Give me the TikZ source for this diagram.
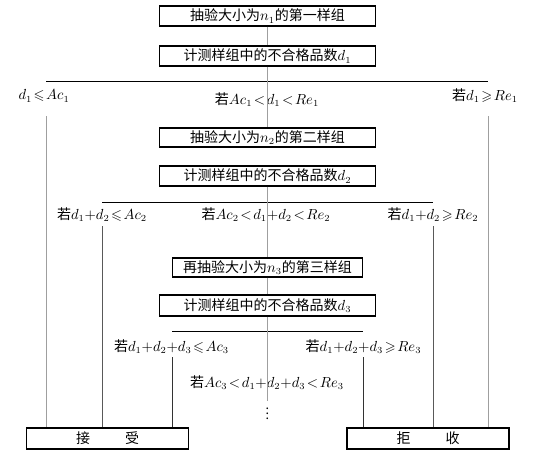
\documentclass[tikz,border=0pt]{standalone}
\usepackage{amssymb}
\usepackage{fontspec}
\newfontfamily\cjk{Noto Sans CJK SC}
\usetikzlibrary{positioning}

\thickmuskip=2mu plus 1mu
\medmuskip=1mu

\tikzset{
  box/.style={draw,line width=0.9pt,minimum width=162pt,minimum height=15pt,inner sep=0pt},
  outer/.style={gray!75,line width=0.7pt},
  mid/.style={black!65,line width=0.6pt},
  inner/.style={black!80,line width=0.6pt},
  rule/.style={black,line width=0.6pt}
}

\begin{document}
\begin{tikzpicture}[x=0.75pt,y=-0.75pt,font=\cjk\fontsize{10.5}{12}\selectfont]
  \useasboundingbox (0,0) rectangle (533,462);
  % first sample
  \node[box] (b1) at (267.5,16) {抽验大小为$n_1$的第一样组};
  \node[box] (b2) at (267.5,56) {计测样组中的不合格品数$d_1$};
  \coordinate (h1l) at (46,81); \coordinate (h1r) at (488,81);
  \node (l1a) at (44,96) {$d_1\leqslant Ac_1$};
  \node (l1b) at (267,100) {若$Ac_1<d_1<Re_1$};
  \node (l1c) at (485,96) {若$d_1\geqslant Re_1$};
  % second sample
  \node[box,minimum height=14.25pt] (b3) at (267.5,137.5) {抽验大小为$n_2$的第二样组};
  \node[box] (b4) at (267.5,176) {计测样组中的不合格品数$d_2$};
  \coordinate (h2l) at (102,202); \coordinate (h2r) at (433,202);
  \node (l2a) at (102,215) {若$d_1{+}d_2\leqslant Ac_2$};
  \node (l2b) at (266,215) {若$Ac_2<d_1{+}d_2<Re_2$};
  \node (l2c) at (433,215) {若$d_1{+}d_2\geqslant Re_2$};
  % third sample
  \node[box,minimum width=142.5pt,minimum height=14.25pt] (b5) at (267.5,267.5) {再抽验大小为$n_3$的第三样组};
  \node[box,minimum height=15.75pt] (b6) at (267.5,305.5) {计测样组中的不合格品数$d_3$};
  \coordinate (h3l) at (172,331); \coordinate (h3r) at (363,331);
  \node (l3a) at (171.5,347) {若$d_1{+}d_2{+}d_3\leqslant Ac_3$};
  \node (l3c) at (363.5,347) {若$d_1{+}d_2{+}d_3\geqslant Re_3$};
  \node (l3b) at (267,383) {若$Ac_3<d_1{+}d_2{+}d_3<Re_3$};
  \coordinate (c3) at (267.5,401);
  \node[inner sep=0pt,scale=0.9] (dots) at (267.5,410) {$\vdots$};
  % decisions
  \node[box,minimum width=122pt,minimum height=15.75pt] (acc) at (107.5,438.5) {接\hspace{2.5em}受};
  \node[box,minimum width=121.5pt,minimum height=15.75pt] (rej) at (428,438.5) {拒\hspace{2.5em}收};

  \draw[rule] (h1l) -- (h1r);
  \draw[rule] (h2l) -- (h2r);
  \draw[rule] (h3l) -- (h3r);
  \draw[outer] (b1.south) -- (b2.north);
  \draw[outer] (b2.south) -- (b3.north);
  \draw[outer] (b4.south) -- (b5.north);
  \draw[outer] (b5.south) -- (b6.north);
  \draw[outer] (b6.south) -- (c3);
  \coordinate (v1) at (46,116);  \coordinate (v2) at (488,116);
  \coordinate (v3) at (102,226); \coordinate (v4) at (433,226);
  \coordinate (v5) at (172,357); \coordinate (v6) at (363,357);
  \draw[outer] (v1) -- (v1 |- acc.north);
  \draw[outer] (v2) -- (v2 |- rej.north);
  \draw[mid] (v3) -- (v3 |- acc.north);
  \draw[mid] (v4) -- (v4 |- rej.north);
  \draw[inner] (v5) -- (v5 |- acc.north);
  \draw[inner] (v6) -- (v6 |- rej.north);
\end{tikzpicture}
\end{document}
